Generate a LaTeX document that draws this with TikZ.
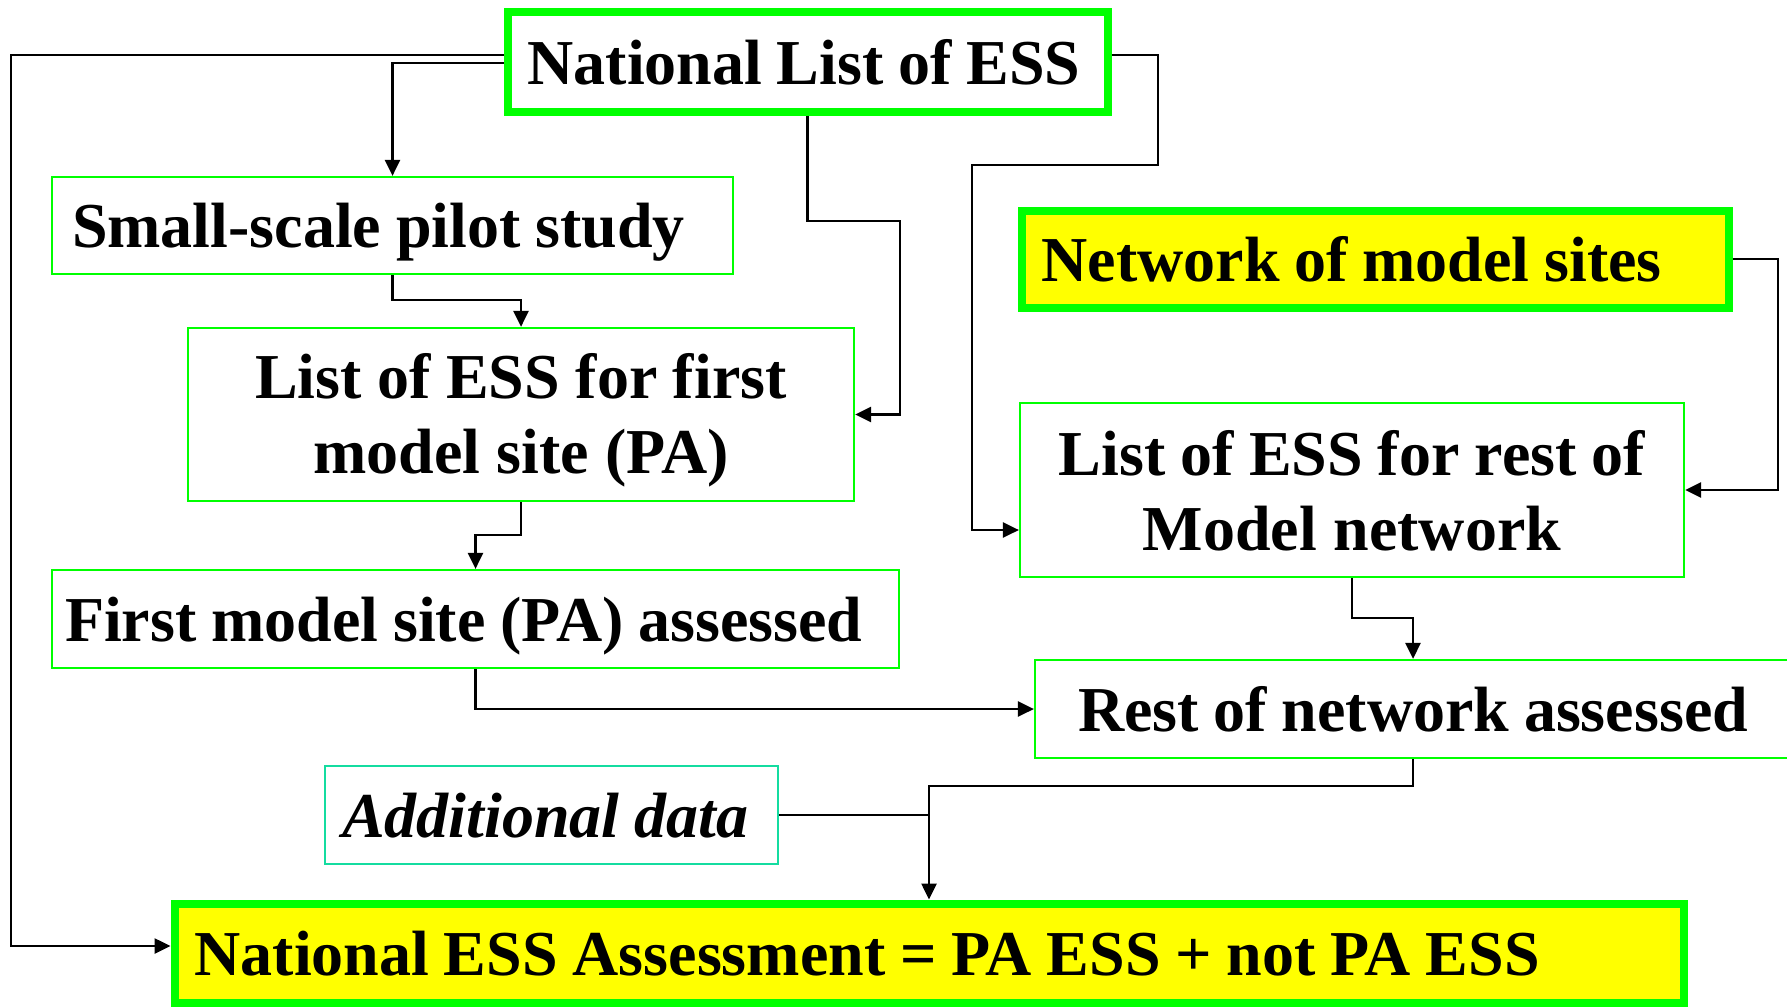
\documentclass[tikz,border=0pt]{standalone}
\usepackage{fontspec}
\setmainfont{Liberation Serif}
\usetikzlibrary{arrows.meta}

\definecolor{boxgreen}{RGB}{0,255,0}
\definecolor{boxteal}{RGB}{20,220,160}
\definecolor{boxyellow}{RGB}{255,255,0}

\newcommand\tightspace{\spaceskip 7.4pt plus 1pt minus 1pt\xspaceskip 7.4pt plus 1pt minus 1pt\relax}

\tikzset{
  stage/.style={draw=boxgreen, line width=1.1pt, inner xsep=10pt, inner ysep=0pt,
    text height=22pt, text depth=0pt, font=\fontsize{32}{37.5}\selectfont\bfseries,
    align=left, execute at begin node=\tightspace},
  twoline/.style={align=center, execute at begin node=\tightspace, text height=22pt, text depth=38pt},
  keystage/.style={stage, line width=4pt, fill=white},
  marked/.style={fill=boxyellow},
  extra/.style={stage, draw=boxteal, font=\fontsize{32}{37.5}\selectfont\bfseries\itshape},
  link/.style={line width=1.3pt, -{Triangle[length=8pt,width=7.5pt]}},
  plainlink/.style={line width=1.3pt}
}

\begin{document}
\begin{tikzpicture}[x=0.5pt,y=0.5pt,yscale=-1,xscale=1]
\useasboundingbox (0,0) rectangle (1787,1006);

%Shape: Rectangle [National list]
\node (natlist) at (807.5,62) [keystage, minimum width=300pt, minimum height=50pt, text width=280pt] {\mbox{National List of ESS}};
%Shape: Rectangle [pilot]
\node (pilot) at (392.5,225.5) [stage, minimum width=340.5pt, minimum height=48.5pt, text width=320.5pt] {\mbox{Small-scale pilot study}};
%Shape: Rectangle [first list]
\node (firstlist) at (521,414.5) [stage, twoline, minimum width=333pt, minimum height=86.5pt, text width=313pt] {List of ESS for first\\model site (PA)};
%Shape: Rectangle [first assessed]
\node (firstdone) at (475.5,619) [stage, inner xsep=6.5pt, minimum width=423.5pt, minimum height=49pt, text width=410.5pt] {\mbox{First model site (PA) assessed}};
%Shape: Rectangle [network]
\node (network) at (1375,259) [keystage, marked, minimum width=353.5pt, minimum height=48.5pt, text width=333.5pt] {\mbox{Network of model sites}};
%Shape: Rectangle [rest list]
\node (restlist) at (1352,490) [stage, twoline, text depth=37pt, minimum width=332pt, minimum height=87pt, text width=312pt] {List of ESS for rest of\\Model network};
%Shape: Rectangle [rest assessed]
\node (restdone) at (1413,709) [stage, inner xsep=21.5pt, minimum width=378pt, minimum height=49pt, text width=335pt] {\mbox{Rest of network assessed}};
%Shape: Rectangle [additional]
\node (extradata) at (551.5,815) [extra, inner xsep=8.5pt, minimum width=226.5pt, minimum height=49pt, text width=209.5pt] {\mbox{Additional data}};
%Shape: Rectangle [national assessment]
\node (natdone) at (929,953) [keystage, marked, minimum width=754.5pt, minimum height=49.5pt, text width=734.5pt] {\mbox{National ESS Assessment = PA ESS + not PA ESS}};

%Straight Lines
\draw [link] ([yshift=-3.5pt]natlist.west) -| (11,500) |- ([yshift=-3.5pt]natdone.west);
\draw [link] ([yshift=0.5pt]natlist.west) -| (pilot.north);
\draw [link] (natlist.south) |- (900,221) |- (firstlist.east);
\draw [link] ([yshift=-3.5pt]natlist.east) -| (1158,165) -| (972,300) |- ([yshift=20pt]restlist.west);
\draw [link] (pilot.south) |- ([yshift=-13.5pt]firstlist.north) -- (firstlist.north);
\draw [link] (firstlist.south) |- ([yshift=-17pt]firstdone.north) -- (firstdone.north);
\draw [link] (firstdone.south) |- (restdone.west);
\draw [link] (network.east) -| (1778,400) |- (restlist.east);
\draw [link] (restlist.south) |- ([yshift=-20.5pt]restdone.north) -- (restdone.north);
\draw [link] (restdone.south) |- ([yshift=-56.75pt]natdone.north) -- (natdone.north);
\draw [plainlink] (extradata.east) -- (extradata.east -| natdone.north);

\end{tikzpicture}
\end{document}
